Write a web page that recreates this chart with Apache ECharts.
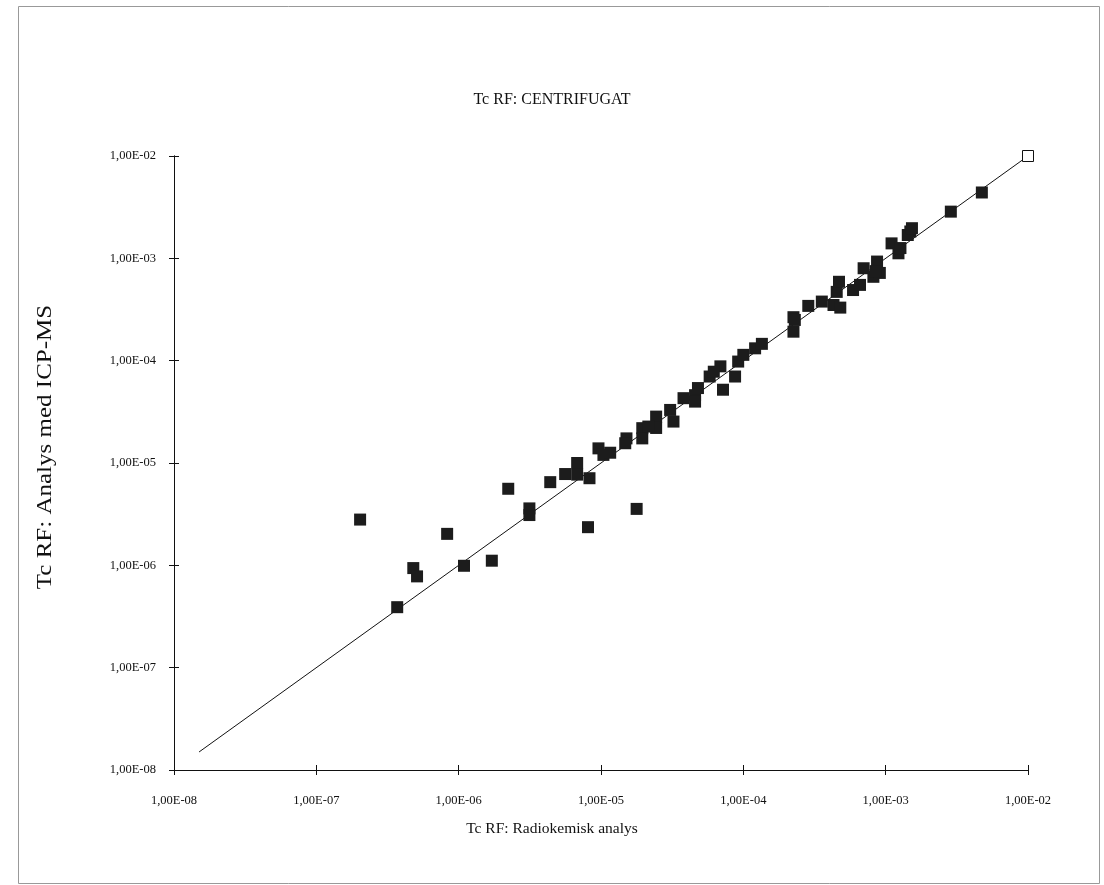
<!DOCTYPE html>
<html>
<head>
<meta charset="utf-8">
<script src="https://cdn.jsdelivr.net/npm/echarts@6/dist/echarts.min.js"></script>
<style>
html,body{margin:0;padding:0;background:#fff;}
#chart{width:1104px;height:885px;}
</style>
</head>
<body>
<div id="chart"></div>
<script>
// Radiochemical analysis (x) vs ICP-MS analysis (y)
const radiokemisk = [2.03e-7,3.7e-7,4.8e-7,5.1e-7,8.3e-7,1.09e-6,1.71e-6,2.23e-6,3.14e-6,3.14e-6,4.4e-6,5.6e-6,6.8e-6,6.8e-6,8.3e-6,8.1e-6,9.6e-6,1.04e-5,1.16e-5,1.78e-5,1.51e-5,1.48e-5,1.95e-5,1.95e-5,2.44e-5,2.44e-5,2.15e-5,3.06e-5,3.23e-5,3.8e-5,4.58e-5,4.58e-5,4.8e-5,5.8e-5,6.9e-5,6.2e-5,7.2e-5,8.75e-5,9.2e-5,1.0e-4,1.21e-4,1.35e-4,2.25e-4,2.3e-4,2.25e-4,2.86e-4,3.56e-4,4.3e-4,4.8e-4,4.53e-4,4.7e-4,5.9e-4,6.6e-4,7.0e-4,8.2e-4,8.7e-4,9.1e-4,8.5e-4,1.1e-3,1.23e-3,1.27e-3,1.49e-3,1.43e-3,1.53e-3,2.87e-3,4.74e-3];
const icpms = [2.8e-6,3.9e-7,9.4e-7,7.8e-7,2.03e-6,9.9e-7,1.11e-6,5.6e-6,3.6e-6,3.1e-6,6.5e-6,7.8e-6,1.0e-5,7.7e-6,7.1e-6,2.36e-6,1.39e-5,1.2e-5,1.26e-5,3.56e-6,1.74e-5,1.56e-5,2.19e-5,1.74e-5,2.84e-5,2.2e-5,2.27e-5,3.3e-5,2.54e-5,4.3e-5,4.6e-5,3.98e-5,5.4e-5,7.0e-5,8.8e-5,7.8e-5,5.2e-5,7.0e-5,9.8e-5,1.14e-4,1.32e-4,1.46e-4,2.66e-4,2.5e-4,1.92e-4,3.43e-4,3.78e-4,3.5e-4,3.3e-4,4.7e-4,5.9e-4,4.9e-4,5.5e-4,8.0e-4,6.6e-4,9.3e-4,7.2e-4,7.5e-4,1.4e-3,1.12e-3,1.26e-3,1.83e-3,1.69e-3,1.97e-3,2.86e-3,4.4e-3];
const openPoint = [[1e-2, 1e-2]];
const refLine = [[1.5e-8, 1.5e-8], [1e-2, 1e-2]];
const tickLabels = ['1,00E-08','1,00E-07','1,00E-06','1,00E-05','1,00E-04','1,00E-03','1,00E-02'];
const chartTitle = 'Tc RF: CENTRIFUGAT';
const xTitle = 'Tc RF: Radiokemisk analys';
const yTitle = 'Tc RF: Analys med ICP-MS';

const points = radiokemisk.map((x, i) => [x, icpms[i]]);
const labelFor = v => tickLabels[Math.round(Math.log10(v)) + 8] || '';
const serif = '"Liberation Serif", "Times New Roman", serif';
const ink = '#111';

const chart = echarts.init(document.getElementById('chart'), null, {renderer: 'canvas'});
const G = {left: 174, right: 76, top: 156, bottom: 115};

function axisBase(labels, inside, margin) {
  return {
    type: 'log', logBase: 10, min: 1e-8, max: 1e-2,
    splitLine: {show: false},
    minorTick: {show: false},
    axisLine: {show: true, lineStyle: {color: ink, width: 1}},
    axisTick: {show: true, inside: inside, length: 5, lineStyle: {color: ink, width: 1}},
    axisLabel: labels ? {show: true, formatter: labelFor, fontFamily: serif, fontSize: 12.5, color: ink, margin: margin} : {show: false}
  };
}

const option = {
  backgroundColor: '#fff',
  animation: false,
  title: [{
    text: chartTitle, left: 'center', top: 87,
    textStyle: {fontFamily: serif, fontSize: 16, fontWeight: 'normal', color: ink}
  }, {
    text: xTitle, left: 'center', top: 816,
    textStyle: {fontFamily: serif, fontSize: 15.5, fontWeight: 'normal', color: ink}
  }],
  grid: G,
  xAxis: [
    axisBase(true, false, 24),
    Object.assign(axisBase(false, true), {position: 'bottom'})
  ],
  yAxis: [
    axisBase(true, false, 18),
    Object.assign(axisBase(false, true), {position: 'left'})
  ],
  graphic: [{
    type: 'rect', left: 16, top: 4, silent: true,
    shape: {width: 1081, height: 877},
    style: {fill: 'none', stroke: '#999', lineWidth: 1}
  }, {
    type: 'text', x: 46, y: 447, rotation: Math.PI / 2, scaleX: 1.25, silent: true,
    style: {text: yTitle, fontFamily: serif, fontSize: 20, fill: ink, align: 'center', verticalAlign: 'middle'}
  }],
  series: [
    {
      type: 'line', data: refLine, symbol: 'none', silent: true,
      lineStyle: {color: ink, width: 1}, z: 2
    },
    {
      type: 'scatter', data: points, symbol: 'rect', symbolSize: 12,
      itemStyle: {color: '#1c1c1c', opacity: 1}, z: 3
    },
    {
      type: 'scatter', data: openPoint, symbol: 'rect', symbolSize: 11,
      itemStyle: {color: '#fff', borderColor: ink, borderWidth: 1, opacity: 1}, z: 4
    }
  ]
};
chart.setOption(option);
</script>
</body>
</html>
